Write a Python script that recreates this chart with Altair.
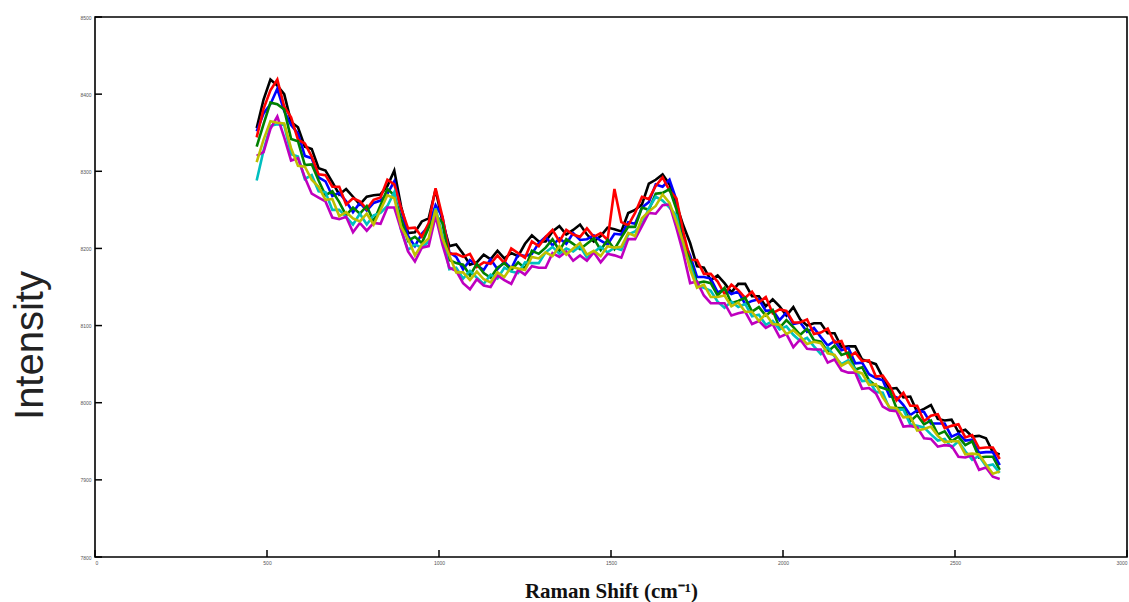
import altair as alt
import pandas as pd

# Raman shift sample positions (cm^-1)
shift = list(range(470, 2631, 20))

# band centre
center = [
    8328, 8347, 8369, 8377, 8364, 8340, 8327, 8310, 8301, 8288,
    8275, 8266, 8258, 8253, 8249, 8249, 8245, 8243, 8256, 8271,
    8279, 8236, 8214, 8207, 8209, 8223, 8256, 8227, 8191, 8181,
    8175, 8173, 8172, 8170, 8172, 8173, 8175, 8178, 8182, 8186,
    8191, 8197, 8201, 8204, 8207, 8208, 8208, 8207, 8204, 8203,
    8204, 8207, 8209, 8214, 8222, 8232, 8245, 8258, 8269, 8274,
    8269, 8249, 8210, 8181, 8165, 8157, 8149, 8143, 8139, 8137,
    8134, 8130, 8126, 8122, 8117, 8112, 8107, 8103, 8098, 8094,
    8090, 8085, 8079, 8076, 8070, 8064, 8057, 8051, 8044, 8035,
    8026, 8017, 8008, 7999, 7993, 7986, 7980, 7974, 7971, 7967,
    7961, 7956, 7952, 7947, 7942, 7937, 7930, 7924, 7917,
]

# deviation of each spectrum from the band centre
dev_k = [28, 46, 50, 34, 36, 24, 30, 22, 28, 16,
         26, 20, 12, 24, 18, 8, 22, 26, 14, 10,
         22, 18, 6, 14, 26, 16, 20, 8, 12, 24,
         18, 6, 10, 22, 14, 24, 12, 16, 8, 20,
         26, 12, 8, 18, 22, 10, 16, 24, 14, 6,
         12, 20, 16, 8, 24, 18, 12, 26, 20, 22,
         14, 8, 20, 26, 12, 18, 10, 22, 16, 6,
         20, 24, 12, 16, 8, 22, 18, 10, 26, 14,
         10, 18, 24, 14, 20, 8, 16, 22, 12, 18,
         24, 16, 10, 20, 14, 22, 8, 18, 26, 12,
         16, 22, 10, 18, 14, 20, 24, 12, 16]
dev_b = [24, 28, 18, 30, 14, 20, 22, 10, 16, 4,
         12, 2, 14, 8, -2, 10, 4, 16, 6, 0,
         8, 14, 2, -4, 10, 6, 0, 14, 4, 8,
         -2, 12, 6, 2, 14, 0, 8, -4, 10, 4,
         2, 10, 14, 0, 6, -2, 12, 4, 8, 14,
         6, -2, 10, 4, 12, 0, 8, 2, 14, 6,
         20, 14, 2, 10, -2, 6, 12, 0, 8, 4,
         10, -2, 6, 12, 2, 8, 0, 14, 4, 10,
         2, 12, 6, -2, 10, 4, 14, 0, 8, 2,
         6, 12, 0, 8, 4, -2, 10, 14, 2, 6,
         12, 0, 8, 4, 10, -2, 6, 12, 2]
dev_r = [16, 34, 36, 42, 20, 30, 14, 26, 18, 8,
         20, 14, 22, 4, 16, 12, 6, 20, 10, 18,
         4, 16, 12, 20, 6, 10, 22, 14, 2, 12,
         14, 20, 4, 12, 8, 18, 6, 22, 12, 2,
         18, 6, 14, 20, 2, 16, 10, 8, 22, 12,
         16, 4, 68, 20, 8, 14, 22, 6, 12, 18,
         6, 16, 12, 4, 20, 10, 18, 14, 2, 16,
         12, 6, 18, 8, 20, 4, 14, 16, 6, 10,
         18, 4, 12, 20, 8, 16, 2, 14, 10, 20,
         8, 18, 14, 4, 20, 10, 16, 2, 12, 18,
         6, 14, 20, 8, 16, 4, 12, 18, 10]
dev_g = [4, 14, 20, 10, 16, 2, 12, -2, 8, 0,
         -6, 8, 2, -10, 4, -4, 10, -8, 0, 6,
         -10, 2, -4, 8, -2, 4, -12, 6, -6, 0,
         4, -8, 8, -2, -10, 2, 6, -6, 0, -12,
         6, -4, 0, 8, -10, 4, -2, -8, 2, 10,
         -6, 4, -10, 0, 6, -4, 8, -8, 2, -2,
         8, 2, -6, 4, -10, 0, 6, -4, 10, -8,
         -2, 6, -8, 2, -4, 8, -10, 4, 0, -6,
         6, -4, 0, -10, 4, -2, 8, -8, 2, -6,
         -4, 2, 8, -6, 0, -10, 4, -2, 6, -8,
         2, -6, 4, -2, 8, -8, 0, 6, -4]
dev_c = [-40, -20, -10, -16, -4, -18, -8, -20, -6, -14,
         -2, -16, -8, -12, -18, -4, -14, 0, -10, -16,
         -6, -12, -16, -2, -8, -14, -4, -10, -18, -6,
         -14, -2, -10, -16, -6, -12, 0, -8, -14, -4,
         -10, -16, -6, -2, -14, -8, -12, -4, -16, -8,
         -2, -12, -8, -16, -4, -10, -14, -6, -2, -12,
         -16, -6, -10, -2, -14, -8, -4, -12, -16, -6,
         -10, -2, -14, -8, -16, -6, -12, -4, -10, -14,
         -6, -12, -16, -4, -10, -14, -2, -8, -16, -6,
         -12, -4, -16, -8, -2, -14, -10, -6, -12, -16,
         -8, -14, -2, -10, -16, -6, -12, -4, -8]
dev_m = [-8, -22, -14, -6, -20, -26, -10, -18, -30, -22,
         -14, -26, -20, -12, -28, -16, -22, -10, -24, -18,
         -26, -12, -18, -24, -8, -20, -14, -22, -16, -10,
         -20, -26, -12, -18, -22, -8, -16, -24, -10, -20,
         -14, -22, -26, -10, -18, -12, -24, -16, -20, -8,
         -22, -14, -18, -26, -10, -20, -16, -12, -24, -18,
         -12, -22, -16, -26, -8, -18, -20, -14, -10, -24,
         -18, -12, -24, -16, -20, -10, -22, -14, -26, -12,
         -20, -16, -10, -24, -14, -22, -18, -12, -26, -16,
         -14, -22, -18, -10, -24, -16, -12, -20, -18, -24,
         -16, -12, -22, -18, -10, -24, -14, -20, -16]
dev_y = [-16, -6, -4, -14, -2, -10, -20, -4, -12, -8,
         -12, -2, -16, -6, -10, -14, 0, -12, -6, -2,
         -14, -8, -2, -16, -4, -10, -6, -14, 0, -12,
         -6, -14, -2, -10, -16, -4, -12, -2, -8, -14,
         -2, -10, -6, -14, -4, -16, -8, 0, -12, -6,
         -14, -4, -8, -12, -2, -16, -6, -10, -14, -4,
         -10, -14, -2, -8, -16, -4, -12, -6, 0, -12,
         -4, -12, -8, -16, -2, -10, -6, -14, -4, -8,
         -14, -6, -2, -12, -8, -16, -4, -10, -6, -12,
         -2, -10, -14, -6, -12, -4, -16, -8, -2, -10,
         -12, -6, -2, -14, -8, -4, -10, -16, -6]

series_names = ["k", "b", "r", "g", "c", "m", "y"]
series_devs = [dev_k, dev_b, dev_r, dev_g, dev_c, dev_m, dev_y]
series_colors = ["#000000", "#0000ff", "#ff0000", "#008000", "#00bfbf", "#bf00bf", "#bfbf00"]

x_ticks = [0, 500, 1000, 1500, 2000, 2500, 3000]
y_ticks = [7800, 7900, 8000, 8100, 8200, 8300, 8400, 8500]

W, H = 1032, 540

xscale = alt.Scale(domain=[0, 3000], nice=False, zero=False)
yscale = alt.Scale(domain=[7800, 8500], nice=False, zero=False)

x_axis = alt.Axis(values=x_ticks, format="d", ticks=False, domain=False, grid=False,
                  labelFontSize=5, labelColor="#555", labelPadding=3,
                  title="Raman Shift (cm\u207b\u00b9)", titleFont="Liberation Serif",
                  titleFontSize=21, titleFontWeight="bold", titleColor="#111",
                  titleBaseline="alphabetic", titleY=40)
y_axis = alt.Axis(values=y_ticks, format="d", ticks=False, domain=False, grid=False,
                  labelFontSize=5, labelColor="#555", labelPadding=4,
                  title="Intensity", titleFont="Liberation Sans",
                  titleFontSize=40, titleFontWeight="normal", titleColor="#222",
                  titleAngle=270, titleAlign="center", titleBaseline="alphabetic",
                  titleX=-53, titleY=328)

layers = []
for name, dev, col in zip(series_names, series_devs, series_colors):
    assert len(dev) == len(shift) == len(center)
    df = pd.DataFrame({"shift": shift, "intensity": [c + d for c, d in zip(center, dev)]})
    layers.append(
        alt.Chart(df).mark_line(color=col, strokeWidth=2.6, clip=True).encode(
            x=alt.X("shift:Q", scale=xscale, axis=x_axis),
            y=alt.Y("intensity:Q", scale=yscale, axis=y_axis),
        )
    )

ytick_df = pd.DataFrame({"shift": [0] * len(y_ticks), "intensity": y_ticks})
xtick_df = pd.DataFrame({"shift": x_ticks, "intensity": [7800] * len(x_ticks)})

ytick_layer = alt.Chart(ytick_df).mark_rule(color="#000", strokeWidth=1.5).encode(
    y=alt.Y("intensity:Q", scale=yscale, axis=y_axis),
    x=alt.value(0), x2=alt.value(7),
)
xtick_layer = alt.Chart(xtick_df).mark_rule(color="#000", strokeWidth=1.5).encode(
    x=alt.X("shift:Q", scale=xscale, axis=x_axis),
    y=alt.value(H), y2=alt.value(H - 7),
)

chart = alt.layer(*layers, ytick_layer, xtick_layer).properties(
    width=W, height=H,
    autosize=alt.AutoSizeParams(type="none"),
    padding={"left": 95, "top": 17, "right": 2, "bottom": 45},
    background="white",
).configure_view(stroke="#000", strokeWidth=1.6)

chart.save("out.html", embed_options={"renderer": "svg", "actions": False})
